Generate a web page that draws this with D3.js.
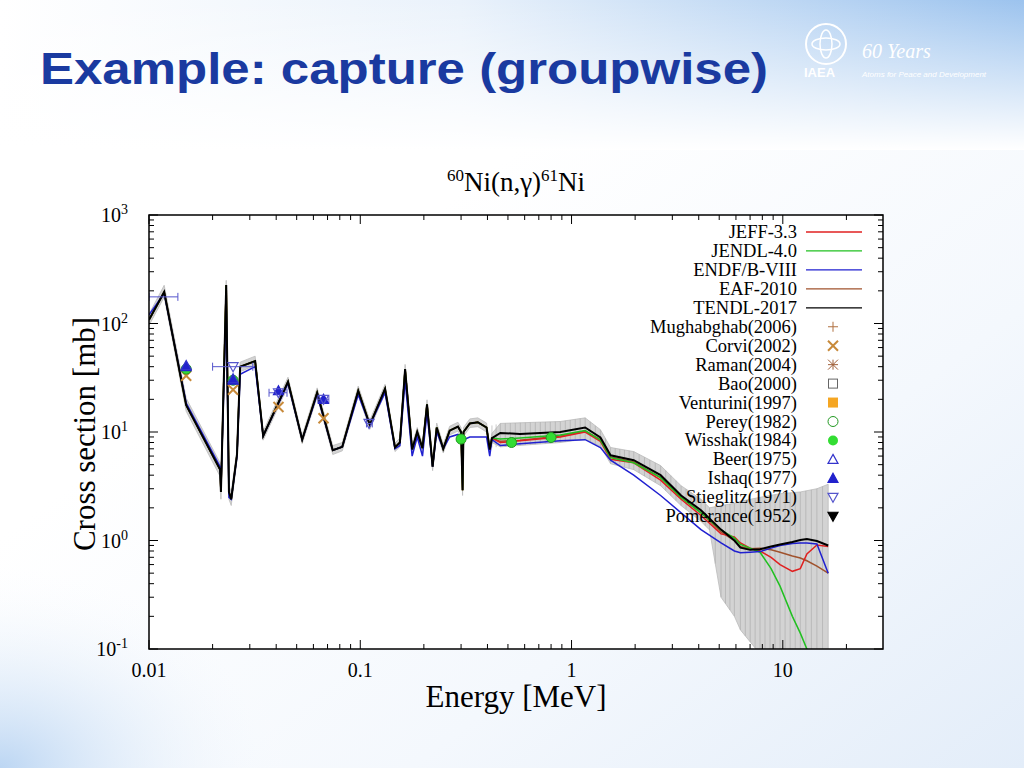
<!DOCTYPE html>
<html><head><meta charset="utf-8">
<script src="https://cdn.jsdelivr.net/npm/d3@7"></script>
<style>body{margin:0}svg{display:block}</style></head>
<body><svg id="c" width="1024" height="768"></svg>
<script>
// ---- data ----
const lowE = [0.01,0.0118,0.015,0.0217,0.0219,0.0232,0.0239,0.0245,0.0261,0.027,0.0318,0.0347,0.0455,0.0531,0.0625,0.0741,0.0822,0.0978,0.111,0.131,0.146,0.154,0.163,0.176,0.186,0.197,0.207,0.22,0.23,0.247,0.265,0.29,0.30,0.305,0.308,0.33,0.36,0.396,0.41,0.42];
const tendlLow = [108,195,17.7,4.5,2.8,226,2.8,2.4,6.2,40,45,9.2,29,8.5,23,6.8,7.3,24,11.6,25,7.2,8.0,38,6.9,10,7.1,18,4.8,11,7,10.3,11.2,10,2.9,10,12,12.3,11,6.9,8.8];
const bandLowLo = [96,175,15.5,3.9,2.4,200,2.4,2.1,5.5,36,41,8.4,26.5,7.8,21,6.2,6.7,22,10.6,23,6.6,7.3,35,6.3,9.2,6.5,16.5,4.4,10,6.4,9.4,10.2,9.1,2.6,9.1,11,11.2,10,6.3,8.0];
const bandLowHi = [122,225,20.5,5.2,3.2,250,3.2,2.8,7.0,44,50,10.1,32,9.3,25.5,7.5,8.0,26.5,12.8,27.5,7.9,8.8,42,7.6,11,7.8,19.8,5.3,12.1,7.7,11.3,12.3,11,3.2,11,13.2,13.5,12.1,7.6,9.7];
const blueLow  = [120,190,18.5,4.8,3.0,150,2.5,2.4,6.0,34,40,9.2,28,8.5,22,6.8,7.3,22,11.6,23,7.0,7.5,30,6.0,9,6.0,15,4.8,10,7,9.0,9.5,9.0,8.5,8.5,9.0,9.0,9.0,6.0,8.5];
const hiE = [0.46,0.57,0.885,1.16,1.37,1.53,1.97,2.64,3.3,4.1,5.1,5.9,6.3,7.0,7.8,8.8,9.7,11.1,12.1,13.0,14.5,16.4];
const tendlHi = [9.8,9.6,10,11,8.9,6.1,5.5,4.0,2.6,1.9,1.26,1.0,0.86,0.82,0.83,0.88,0.92,0.97,1.01,1.03,0.99,0.9];
const jeffHi  = [8.0,8.3,9.0,10,8.2,5.6,5.2,3.6,2.4,1.7,1.15,1.08,0.95,0.85,0.80,0.70,0.60,0.52,0.55,0.75,0.91,0.88];
const jendlHi = [8.6,8.8,9.4,10.3,8.4,5.8,5.2,3.8,2.5,1.8,1.25,1.05,0.92,0.85,0.78,0.55,0.38,0.2,0.14,0.1,0.07,0.05];
const endfHi  = [7.5,7.8,8.3,8.5,7.2,5.5,4.0,2.6,1.8,1.26,0.95,0.8,0.77,0.78,0.79,0.85,0.9,0.94,0.95,0.95,0.93,0.5];
const eafHi   = [8.2,8.4,9.2,10.2,8.5,5.9,5.3,3.8,2.5,1.8,1.2,1.0,0.88,0.84,0.85,0.82,0.78,0.72,0.69,0.65,0.58,0.5];
const bandE  = [0.42,0.46,0.885,1.16,1.37,1.53,1.97,2.64,3.3,4.1,4.5,5.1,5.9,6.3,7.8,9.7,12.1,14.5,16.4];
const bandLo = [7.2,7.3,8.0,8.6,7.4,5.1,4.5,3.2,2.1,1.5,1.25,0.3,0.2,0.15,0.09,0.09,0.09,0.09,0.09];
const bandHi = [11.5,12,12.5,13.5,10.5,7.2,6.6,4.9,3.2,2.4,2.0,2.1,2.2,2.3,2.5,2.7,2.8,3.0,3.3];
const seriesNames = ["JEFF-3.3","JENDL-4.0","ENDF/B-VIII","EAF-2010","TENDL-2017"];
const seriesColors = ["#e02020","#20c020","#2020d0","#a0522d","#000000"];
const expNames = ["Mughabghab(2006)","Corvi(2002)","Raman(2004)","Bao(2000)","Venturini(1997)","Perey(1982)","Wisshak(1984)","Beer(1975)","Ishaq(1977)","Stieglitz(1971)","Pomerance(1952)"];
const corvi = [[0.015,33],[0.025,24.5],[0.041,17],[0.067,13.4]];
const wisshak = [[0.015,38],[0.025,30],[0.3,8.6],[0.52,8.0],[0.8,8.9]];
const beer = [[0.015,41],[0.025,31]];
const ishaq = [[0.015,40],[0.025,30],[0.041,24],[0.067,20]];
const stieglitz = [[0.025,40,0.02,0.031],[0.041,23,0.037,0.045],[0.067,20,0.063,0.071],[0.11,12,0.107,0.114],[0.0118,176,0.01,0.0137]];
const xTicks = [0.01,0.1,1,10];
const yTicks = [0.1,1,10,100,1000];
const yTickExp = ["-1","0","1","2","3"];

// ---- drawing ----
const svg = d3.select("#c");
const defs = svg.append("defs");
const g1 = defs.append("linearGradient").attr("id","bg").attr("x1","0").attr("y1","0").attr("x2","1").attr("y2","1");
g1.append("stop").attr("offset","0").attr("stop-color","#ffffff");
g1.append("stop").attr("offset","0.35").attr("stop-color","#ffffff");
g1.append("stop").attr("offset","0.7").attr("stop-color","#f4f8fd");
g1.append("stop").attr("offset","1").attr("stop-color","#e3edf9");
svg.append("rect").attr("width",1024).attr("height",768).attr("fill","url(#bg)");
const g2 = defs.append("linearGradient").attr("id","top").attr("x1","0").attr("y1","0").attr("x2","1").attr("y2","0");
g2.append("stop").attr("offset","0").attr("stop-color","#ffffff");
g2.append("stop").attr("offset","0.45").attr("stop-color","#eaf2fb");
g2.append("stop").attr("offset","1").attr("stop-color","#9cc3ee");
const g3 = defs.append("linearGradient").attr("id","topfade").attr("x1","0").attr("y1","0").attr("x2","0").attr("y2","1");
g3.append("stop").attr("offset","0").attr("stop-color","#fff").attr("stop-opacity",0);
g3.append("stop").attr("offset","1").attr("stop-color","#fff").attr("stop-opacity",1);
svg.append("rect").attr("width",1024).attr("height",150).attr("fill","url(#top)");
svg.append("rect").attr("width",1024).attr("height",150).attr("fill","url(#topfade)");
const g4 = defs.append("radialGradient").attr("id","bl").attr("cx","0").attr("cy","1").attr("r","1");
g4.append("stop").attr("offset","0").attr("stop-color","#bcd6f3");
g4.append("stop").attr("offset","1").attr("stop-color","#ffffff").attr("stop-opacity",0);
svg.append("rect").attr("x",0).attr("y",560).attr("width",300).attr("height",208).attr("fill","url(#bl)");

svg.append("text").attr("x",40).attr("y",84).attr("font-family","Liberation Sans, Arial").attr("font-weight","bold")
  .attr("font-size",44).attr("fill","#1a3aa0").attr("textLength",728).attr("lengthAdjust","spacingAndGlyphs").text("Example: capture (groupwise)");
// logo
const lg = svg.append("g");
lg.append("circle").attr("cx",826).attr("cy",44).attr("r",20).attr("fill","none").attr("stroke","#fff").attr("stroke-width",2);
lg.append("ellipse").attr("cx",826).attr("cy",44).attr("rx",14).attr("ry",6).attr("fill","none").attr("stroke","#fff").attr("stroke-width",1.5);
lg.append("ellipse").attr("cx",826).attr("cy",44).attr("rx",6).attr("ry",14).attr("fill","none").attr("stroke","#fff").attr("stroke-width",1.5);
lg.append("text").attr("x",804).attr("y",77).attr("font-family","Liberation Sans").attr("font-weight","bold").attr("font-size",13).attr("fill","#fff").text("IAEA");
lg.append("text").attr("x",862).attr("y",58).attr("font-family","Liberation Serif").attr("font-style","italic").attr("font-size",20).attr("fill","#fff").text("60 Years");
lg.append("text").attr("x",862).attr("y",77).attr("font-family","Liberation Sans").attr("font-style","italic").attr("font-size",8).attr("fill","#fff").text("Atoms for Peace and Development");

const L=149,R=883,T=215,B=649;
svg.append("rect").attr("x",L).attr("y",T).attr("width",R-L).attr("height",B-T).attr("fill","#fff");
const x = d3.scaleLog().domain([0.01,29.8]).range([L,R]);
const y = d3.scaleLog().domain([0.1,1000]).range([B,T]);
const clip = defs.append("clipPath").attr("id","pc");
clip.append("rect").attr("x",L).attr("y",T).attr("width",R-L).attr("height",B-T);
const plot = svg.append("g").attr("clip-path","url(#pc)");

// band
const band = lowE.map((e,i)=>({e,lo:bandLowLo[i],hi:bandLowHi[i]})).concat(bandE.slice(1).map((e,i)=>({e,lo:bandLo[i+1],hi:bandHi[i+1]})));
plot.append("path").datum(band).attr("fill","#d3d3d3").attr("stroke","#bbb").attr("stroke-width",0.8)
  .attr("d",d3.area().x(d=>x(d.e)).y0(d=>y(d.lo)).y1(d=>y(d.hi)));
const hb = bandE.map((e,i)=>({e,lo:bandLo[i],hi:bandHi[i]}));
for(let i=0;i<hb.length-1;i++){
  const a=hb[i],b=hb[i+1];
  const n=Math.max(1,Math.round((x(b.e)-x(a.e))/5));
  for(let k=0;k<n;k++){
    const t=k/n, e=Math.exp(Math.log(a.e)+t*(Math.log(b.e)-Math.log(a.e)));
    const lo=Math.exp(Math.log(a.lo)+t*(Math.log(b.lo)-Math.log(a.lo)));
    const hi=Math.exp(Math.log(a.hi)+t*(Math.log(b.hi)-Math.log(a.hi)));
    plot.append("line").attr("x1",x(e)).attr("x2",x(e)).attr("y1",y(lo)).attr("y2",y(hi)).attr("stroke","#a8a8a8").attr("stroke-width",0.6);
  }
}
const line = d3.line().x(d=>x(d[0])).y(d=>y(d[1]));
const mk = (lo,hi)=>lowE.map((e,i)=>[e,lo[i]]).concat(hiE.map((e,i)=>[e,hi[i]]));
const curves = [
  [mk(tendlLow,eafHi),3,1.5],
  [mk(tendlLow,jeffHi),0,1.5],
  [mk(tendlLow,jendlHi),1,1.5],
  [mk(blueLow,endfHi),2,1.5],
  [mk(tendlLow,tendlHi),4,2]];
curves.forEach(([d,ci,w])=>plot.append("path").datum(d).attr("fill","none").attr("stroke",seriesColors[ci]).attr("stroke-width",w).attr("d",line));

// experimental
stieglitz.forEach(d=>{
  plot.append("line").attr("x1",x(d[2])).attr("x2",x(d[3])).attr("y1",y(d[1])).attr("y2",y(d[1])).attr("stroke","#5555cc");
  [d[2],d[3]].forEach(e=>plot.append("line").attr("x1",x(e)).attr("x2",x(e)).attr("y1",y(d[1])-4).attr("y2",y(d[1])+4).attr("stroke","#5555cc"));
});
const tri=(g,cx,cy,up,fill,stroke)=>{const s=up?1:-1;g.append("path").attr("d",`M${cx},${cy-5*s}L${cx+5},${cy+4*s}L${cx-5},${cy+4*s}Z`).attr("fill",fill).attr("stroke",stroke).attr("stroke-width",1.2);};
const cross=(g,cx,cy,col)=>g.append("path").attr("d",`M${cx-5},${cy-5}L${cx+5},${cy+5}M${cx-5},${cy+5}L${cx+5},${cy-5}`).attr("stroke",col).attr("stroke-width",2);
corvi.forEach(d=>cross(plot,x(d[0]),y(d[1]),"#c88a3a"));
wisshak.forEach(d=>plot.append("circle").attr("cx",x(d[0])).attr("cy",y(d[1])).attr("r",5).attr("fill","#33dd33").attr("stroke","#229922"));
ishaq.forEach(d=>tri(plot,x(d[0]),y(d[1]),true,"#2222cc","#2222cc"));
beer.forEach(d=>tri(plot,x(d[0]),y(d[1]),true,"none","#3333cc"));
stieglitz.slice(0,4).forEach(d=>tri(plot,x(d[0]),y(d[1]),false,"none","#5555cc"));

// axes
svg.append("rect").attr("x",L).attr("y",T).attr("width",R-L).attr("height",B-T).attr("fill","none").attr("stroke","#000").attr("stroke-width",1.5);
const minorX=[],minorY=[];
for(let p=-2;p<=1;p++)for(let m=1;m<10;m++){const v=m*Math.pow(10,p);if(v<=29.8)minorX.push([v,m===1]);}
for(let p=-1;p<=2;p++)for(let m=1;m<10;m++){minorY.push([m*Math.pow(10,p),m===1]);}
minorY.push([1000,true]);
minorX.forEach(([v,maj])=>{const l=maj?9:5;const xx=x(v);
  svg.append("line").attr("x1",xx).attr("x2",xx).attr("y1",B).attr("y2",B-l).attr("stroke","#000");
  svg.append("line").attr("x1",xx).attr("x2",xx).attr("y1",T).attr("y2",T+l).attr("stroke","#000");});
minorY.forEach(([v,maj])=>{const l=maj?9:5;const yy=y(v);
  svg.append("line").attr("x1",L).attr("x2",L+l).attr("y1",yy).attr("y2",yy).attr("stroke","#000");
  svg.append("line").attr("x1",R).attr("x2",R-l).attr("y1",yy).attr("y2",yy).attr("stroke","#000");});
const serif="Liberation Serif, DejaVu Serif, serif";
xTicks.forEach(v=>svg.append("text").attr("x",x(v)).attr("y",677).attr("text-anchor","middle").attr("font-family",serif).attr("font-size",20).text(String(v)));
yTicks.forEach((v,i)=>{const t=svg.append("text").attr("x",128).attr("y",y(v)+7).attr("text-anchor","end").attr("font-family",serif).attr("font-size",20);
  t.append("tspan").text("10");
  t.append("tspan").attr("dy",-8).attr("font-size",14).text(yTickExp[i]);});
svg.append("text").attr("transform","translate(95,434) rotate(-90)").attr("text-anchor","middle").attr("font-family",serif).attr("font-size",31).text("Cross section [mb]");
svg.append("text").attr("x",516).attr("y",707).attr("text-anchor","middle").attr("font-family",serif).attr("font-size",31).text("Energy [MeV]");
const tt=svg.append("text").attr("x",516).attr("y",191).attr("text-anchor","middle").attr("font-family",serif).attr("font-size",27);
tt.append("tspan").attr("font-size",17).attr("dy",-10).text("60");
tt.append("tspan").attr("dy",10).text("Ni(n,γ)");
tt.append("tspan").attr("font-size",17).attr("dy",-10).text("61");
tt.append("tspan").attr("dy",10).text("Ni");

// legend
const leg = svg.append("g");
const allNames = seriesNames.concat(expNames);
allNames.forEach((n,i)=>{
  const yy = 232 + i*18.95;
  leg.append("text").attr("x",797).attr("y",yy+6).attr("text-anchor","end").attr("font-family",serif).attr("font-size",18.5).text(n);
  if(i<5){ leg.append("line").attr("x1",806).attr("x2",862).attr("y1",yy).attr("y2",yy).attr("stroke",seriesColors[i]).attr("stroke-width",1.3); return; }
  const cx=833, j=i-5, g=leg;
  if(j===0) g.append("path").attr("d",`M${cx-5},${yy}H${cx+5}M${cx},${yy-5}V${yy+5}`).attr("stroke","#b07040");
  else if(j===1) cross(g,cx,yy,"#c88a3a");
  else if(j===2) g.append("path").attr("d",`M${cx-5},${yy-5}L${cx+5},${yy+5}M${cx-5},${yy+5}L${cx+5},${yy-5}M${cx-5},${yy}H${cx+5}M${cx},${yy-5}V${yy+5}`).attr("stroke","#a0603a");
  else if(j===3) g.append("rect").attr("x",cx-4.5).attr("y",yy-4.5).attr("width",9).attr("height",9).attr("fill","none").attr("stroke","#666");
  else if(j===4) g.append("rect").attr("x",cx-5).attr("y",yy-5).attr("width",10).attr("height",10).attr("fill","#f5a623");
  else if(j===5) g.append("circle").attr("cx",cx).attr("cy",yy).attr("r",5).attr("fill","none").attr("stroke","#229922");
  else if(j===6) g.append("circle").attr("cx",cx).attr("cy",yy).attr("r",5).attr("fill","#33dd33");
  else if(j===7) tri(g,cx,yy,true,"none","#3333cc");
  else if(j===8) tri(g,cx,yy,true,"#2222cc","#2222cc");
  else if(j===9) tri(g,cx,yy,false,"none","#5555cc");
  else tri(g,cx,yy,false,"#000","#000");
});
</script></body></html>
